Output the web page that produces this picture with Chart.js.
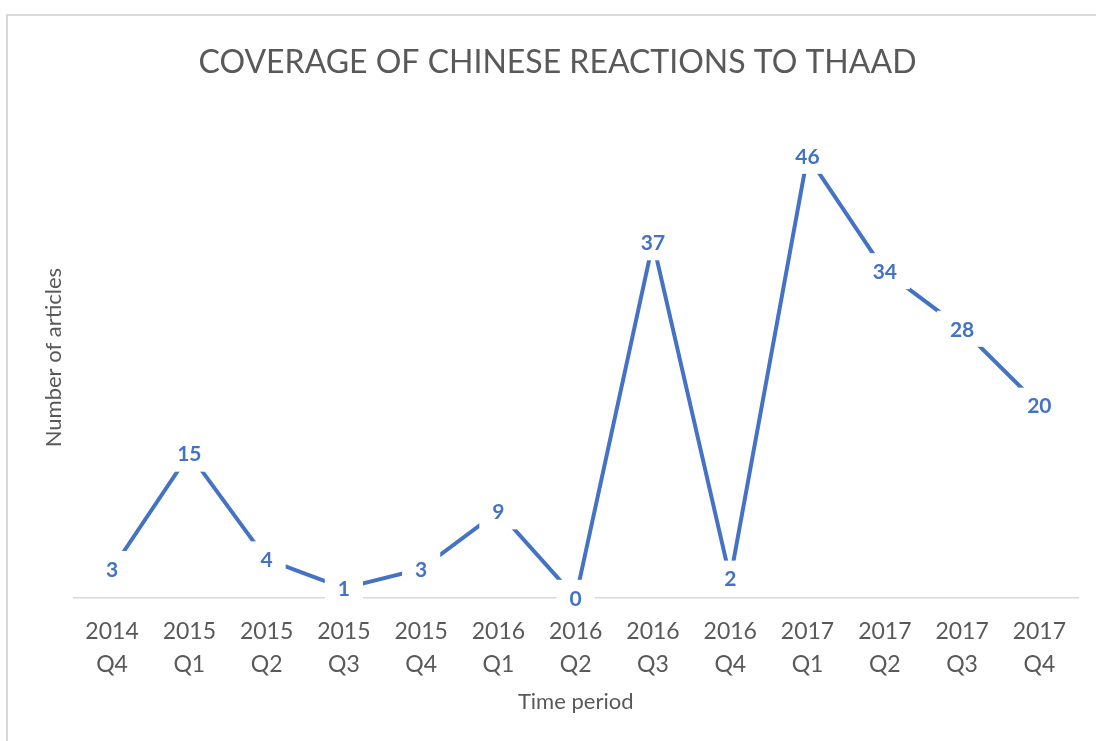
<!DOCTYPE html>
<html>
<head>
  <meta charset="utf-8">
  <title>Coverage of Chinese reactions to THAAD</title>
  <script src="https://cdn.jsdelivr.net/npm/chart.js"></script>
  <style>
    body {
      margin: 0;
      background: white;
      overflow: hidden;
    }

    .frame {
      position: absolute;
      left: 6px;
      top: 14px;
      width: 1200px;
      height: 900px;
      border-left: 2px solid #d9d9d9;
      border-top: 2px solid #d9d9d9;
    }

    #thaadChart {
      position: absolute;
      left: 0;
      top: 0;
    }
  </style>
</head>
<body>
  <div class="frame"></div>
  <canvas id="thaadChart" width="1096" height="741"></canvas>

  <script>
    const periods  = ['2014 Q4', '2015 Q1', '2015 Q2', '2015 Q3', '2015 Q4', '2016 Q1', '2016 Q2',
                      '2016 Q3', '2016 Q4', '2017 Q1', '2017 Q2', '2017 Q3', '2017 Q4'];
    const articles = [3, 15, 4, 1, 3, 9, 0, 37, 2, 46, 34, 28, 20];

    const blue = '#4472C4';
    const grey = '#595959';

    // labels sit on the points with a white box behind them, like Excel does
    const pointLabels = {
      id: 'pointLabels',
      afterDatasetsDraw(chart) {
        const c = chart.ctx;
        const meta = chart.getDatasetMeta(0);
        c.save();
        c.font = 'bold 21px Lato';
        c.textAlign = 'center';
        c.textBaseline = 'middle';
        meta.data.forEach((pt, i) => {
          const txt = String(chart.data.datasets[0].data[i]);
          const w = c.measureText(txt).width + 26;
          c.fillStyle = 'white';
          c.fillRect(pt.x - w / 2, pt.y - 18, w, 36);
          c.fillStyle = blue;
          c.fillText(txt, pt.x, pt.y + 1);
        });
        c.restore();
      }
    };

    const ctx = document.getElementById('thaadChart').getContext('2d');
    new Chart(ctx, {
      type: 'line',
      data: {
        labels: periods.map(p => p.split(' ')),
        datasets: [{
          label: 'Number of articles',
          data: articles,
          borderColor: blue,
          borderWidth: 4,
          pointRadius: 0,
          tension: 0
        }]
      },
      options: {
        responsive: false,
        animation: false,
        layout: { padding: { left: 37, right: 18, top: 18, bottom: 22 } },
        plugins: {
          legend: { display: false },
          tooltip: { enabled: false },
          title: {
            display: true,
            text: 'COVERAGE OF CHINESE REACTIONS TO THAAD',
            color: grey,
            font: { family: 'Lato', size: 32, weight: 'normal' },
            padding: { top: 25, bottom: 36 }
          }
        },
        scales: {
          x: {
            offset: true,
            grid: { display: false, drawTicks: false },
            border: { display: true, color: '#d9d9d9', width: 1.5 },
            ticks: {
              color: grey,
              font: { family: 'Lato', size: 23, lineHeight: 1.43 },
              padding: 17,
              maxRotation: 0,
              autoSkip: false
            },
            title: {
              display: true,
              text: 'Time period',
              color: grey,
              font: { family: 'Lato', size: 22 },
              padding: { top: -9, bottom: 4 }
            }
          },
          y: {
            min: 0,
            max: 50,
            grid: { display: false, drawTicks: false },
            border: { display: false },
            ticks: { display: false },
            title: {
              display: true,
              text: 'Number of articles',
              color: grey,
              font: { family: 'Lato', size: 22 },
              padding: { top: 4, bottom: 6 }
            }
          }
        }
      },
      plugins: [pointLabels]
    });
  </script>
</body>
</html>
